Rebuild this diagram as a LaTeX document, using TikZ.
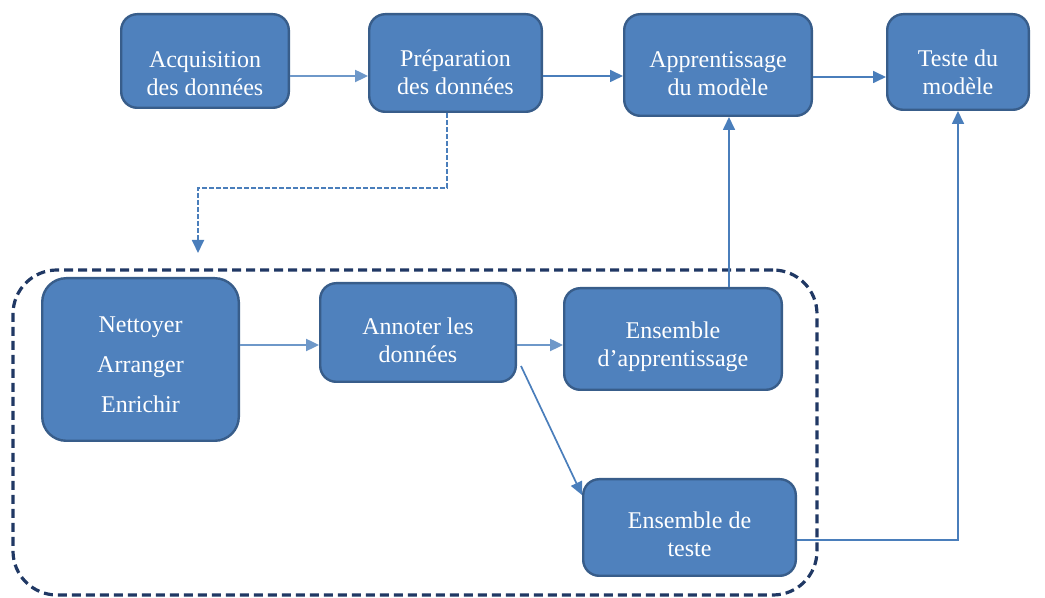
\documentclass[tikz,border=0pt]{standalone}
\usepackage{fontspec}
\setmainfont{Liberation Serif}
\usetikzlibrary{positioning,arrows.meta}
\definecolor{boxfill}{HTML}{4F81BD}
\definecolor{boxline}{HTML}{385D8A}
\definecolor{arrowblue}{HTML}{4A7EBB}
\definecolor{grpline}{HTML}{203864}

\begin{document}
\begin{tikzpicture}[
      nodes={font=\fontsize{12}{14}\selectfont},
      box/.style={
        draw=boxline, line width=1.2pt, fill=boxfill, text=white,
        rounded corners=8pt, align=center
      },
      grpframe/.style={draw=grpline, line width=1.6pt,
        dash pattern=on 4.5pt off 2.5pt, rounded corners=22pt},
      link/.style={draw=arrowblue, line width=0.85pt, ->},
      softlink/.style={link, draw=arrowblue!80, line width=1.2pt},
      >={Triangle[length=6.5pt,width=6pt]}
      ]

	  \useasboundingbox (0,0) rectangle (522.5pt,-299pt);

	  \node[grpframe, minimum width=402pt, minimum height=162.5pt] (grp) at (207.5pt,-216.25pt) {};

	  \node[box, minimum width=83.8pt, minimum height=46.8pt, text height=34.2pt] (acq) at (102.5pt,-30.5pt) {Acquisition\\des données};
	  \node[box, minimum width=86.3pt, minimum height=48.8pt, text height=31.2pt, right = 39pt of acq.north east, anchor=north west] (prep) {Préparation\\des données};
	  \node[box, minimum width=93.8pt, minimum height=50.8pt, text height=30.2pt, right = 40pt of prep.north east, anchor=north west] (appr) {Apprentissage\\du modèle};
	  \node[box, minimum width=70.8pt, minimum height=47.8pt, text height=32.2pt, right = 36.5pt of appr.north east, anchor=north west] (teste) {Teste du\\modèle};
	  \node[box, minimum width=98.3pt, minimum height=81.3pt, rounded corners=12pt, text height=52.7pt,
	    below left = 84pt and 39.5pt of acq.south west, anchor=north west] (net) {Nettoyer\\[6pt]Arranger\\[6pt]Enrichir};
	  \node[box, minimum width=97.8pt, minimum height=49.3pt, text height=30.2pt, below right = 2.5pt and 39.5pt of net.north east, anchor=north west] (annot) {Annoter les\\données};
	  \node[box, minimum width=108.8pt, minimum height=50.8pt, text height=29.7pt, below right = 2.5pt and 23pt of annot.north east, anchor=north west] (ensA) {Ensemble\\d’apprentissage};
	  \node[box, minimum width=106.3pt, minimum height=48.3pt, text height=29.2pt, below right = 43.5pt and 9.5pt of ensA.south west, anchor=north west] (ensT) {Ensemble de\\teste};
	  \coordinate (drop) at (99pt,-126.5pt);

  % Connect the nodes

  \draw[softlink] ([yshift=-7.5pt]acq.east) -- ([yshift=-6.5pt]prep.west);
  \draw[link] ([yshift=-6.5pt]prep.east) -- ([yshift=-5.5pt]appr.west);
  \draw[link] ([yshift=-6pt]appr.east) -- ([yshift=-7.5pt]teste.west);
  \draw[link, line width=0.9pt, dash pattern=on 2.5pt off 1pt] ([xshift=-4.25pt]prep.south) -- ++(0,-37.5pt) -| (drop);
  \draw[link] ([xshift=28pt]ensA.north) -- ([xshift=5.5pt]appr.south);
  \draw[softlink] ([yshift=7.25pt]net.east) -- ([yshift=-6.25pt]annot.west);
  \draw[softlink] ([yshift=-6.25pt]annot.east) -- ([yshift=-3pt]ensA.west);
  \draw[link] ([xshift=2pt,yshift=-16.75pt]annot.east) -- ([yshift=-8.5pt]ensT.north west);
  \draw[link] ([yshift=-6.25pt]ensT.east) -| (teste.south);

\end{tikzpicture}
\end{document}
